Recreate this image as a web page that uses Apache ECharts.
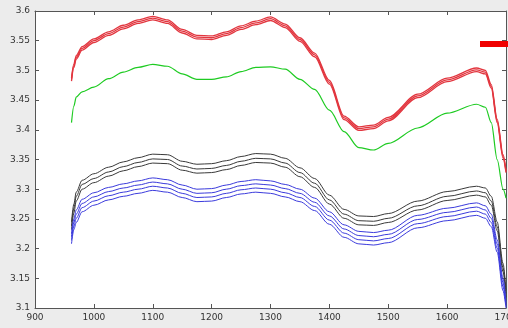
<!DOCTYPE html>
<html>
<head>
<meta charset="utf-8">
<script src="https://cdn.jsdelivr.net/npm/echarts@6/dist/echarts.min.js"></script>
<style>
  html, body { margin: 0; padding: 0; background: #ececec; }
  #chart { width: 508px; height: 328px; }
</style>
</head>
<body>
<div id="chart"></div>
<script>
// Wavelength sample positions (nm)
const wavelengths = [962, 966, 970, 980, 1000, 1025, 1050, 1075, 1100, 1125, 1150, 1175, 1200, 1225, 1250, 1275, 1300, 1325, 1350, 1375, 1400, 1425, 1450, 1475, 1500, 1550, 1600, 1650, 1665, 1675, 1685, 1695, 1700];

// Axis ticks
const xTicks = { min: 900, max: 1700, step: 100 };
const yTicks = { min: 3.1, max: 3.6, step: 0.05 };

// Red group (three spectra)
const red1 = [3.487, 3.511, 3.525, 3.540, 3.553, 3.565, 3.576, 3.585, 3.591, 3.585, 3.569, 3.559, 3.558, 3.565, 3.575, 3.583, 3.590, 3.578, 3.555, 3.529, 3.483, 3.423, 3.405, 3.408, 3.421, 3.460, 3.487, 3.504, 3.500, 3.476, 3.418, 3.358, 3.332];
const red2 = [3.485, 3.508, 3.522, 3.537, 3.550, 3.562, 3.573, 3.582, 3.588, 3.582, 3.566, 3.556, 3.555, 3.562, 3.572, 3.580, 3.587, 3.575, 3.552, 3.526, 3.480, 3.420, 3.402, 3.405, 3.418, 3.457, 3.484, 3.501, 3.497, 3.473, 3.415, 3.355, 3.330];
const red3 = [3.482, 3.505, 3.519, 3.534, 3.547, 3.559, 3.570, 3.579, 3.585, 3.579, 3.563, 3.553, 3.552, 3.559, 3.569, 3.577, 3.584, 3.572, 3.549, 3.523, 3.477, 3.417, 3.399, 3.402, 3.415, 3.454, 3.481, 3.498, 3.494, 3.470, 3.412, 3.352, 3.328];

// Green spectrum
const green1 = [3.412, 3.440, 3.455, 3.464, 3.472, 3.486, 3.497, 3.505, 3.510, 3.507, 3.494, 3.485, 3.485, 3.489, 3.498, 3.505, 3.506, 3.502, 3.485, 3.468, 3.433, 3.397, 3.370, 3.366, 3.377, 3.403, 3.428, 3.443, 3.438, 3.412, 3.350, 3.300, 3.285];

// Black group (three spectra)
const black1 = [3.245, 3.275, 3.295, 3.315, 3.326, 3.337, 3.346, 3.353, 3.359, 3.358, 3.347, 3.342, 3.343, 3.348, 3.355, 3.360, 3.359, 3.352, 3.336, 3.318, 3.290, 3.266, 3.255, 3.254, 3.259, 3.280, 3.296, 3.305, 3.302, 3.288, 3.245, 3.175, 3.130];
const black2 = [3.238, 3.268, 3.288, 3.308, 3.318, 3.329, 3.338, 3.345, 3.351, 3.350, 3.339, 3.334, 3.335, 3.340, 3.347, 3.352, 3.351, 3.344, 3.328, 3.310, 3.282, 3.258, 3.247, 3.246, 3.251, 3.272, 3.288, 3.297, 3.294, 3.280, 3.237, 3.168, 3.124];
const black3 = [3.232, 3.260, 3.280, 3.300, 3.311, 3.322, 3.331, 3.338, 3.344, 3.343, 3.332, 3.327, 3.328, 3.333, 3.340, 3.345, 3.344, 3.337, 3.321, 3.303, 3.275, 3.251, 3.240, 3.239, 3.244, 3.265, 3.281, 3.290, 3.287, 3.273, 3.230, 3.161, 3.118];

// Blue group (four spectra)
const blue1 = [3.225, 3.250, 3.265, 3.283, 3.294, 3.303, 3.309, 3.314, 3.319, 3.316, 3.307, 3.300, 3.301, 3.307, 3.313, 3.316, 3.314, 3.308, 3.300, 3.285, 3.262, 3.240, 3.229, 3.227, 3.231, 3.256, 3.268, 3.277, 3.272, 3.258, 3.215, 3.150, 3.110];
const blue2 = [3.220, 3.244, 3.258, 3.276, 3.287, 3.296, 3.302, 3.307, 3.312, 3.309, 3.300, 3.293, 3.294, 3.300, 3.306, 3.309, 3.307, 3.301, 3.293, 3.278, 3.255, 3.233, 3.222, 3.220, 3.224, 3.249, 3.261, 3.270, 3.265, 3.251, 3.208, 3.143, 3.106];
const blue3 = [3.214, 3.238, 3.251, 3.269, 3.280, 3.289, 3.295, 3.300, 3.305, 3.302, 3.293, 3.286, 3.287, 3.293, 3.299, 3.302, 3.300, 3.294, 3.286, 3.271, 3.248, 3.226, 3.215, 3.213, 3.217, 3.242, 3.254, 3.263, 3.258, 3.244, 3.201, 3.136, 3.103];
const blue4 = [3.208, 3.232, 3.244, 3.262, 3.273, 3.282, 3.288, 3.293, 3.298, 3.295, 3.286, 3.279, 3.280, 3.286, 3.292, 3.295, 3.293, 3.287, 3.279, 3.264, 3.241, 3.219, 3.208, 3.206, 3.210, 3.235, 3.247, 3.256, 3.251, 3.237, 3.194, 3.129, 3.100];

const groups = [
  { names: ['red-1', 'red-2', 'red-3'], values: [red1, red2, red3], color: '#e2363f', width: 1.3 },
  { names: ['green-1'], values: [green1], color: '#1ecb22', width: 1.2 },
  { names: ['black-1', 'black-2', 'black-3'], values: [black1, black2, black3], color: '#3a3a3a', width: 1 },
  { names: ['blue-1', 'blue-2', 'blue-3', 'blue-4'], values: [blue1, blue2, blue3, blue4], color: '#3b3bdc', width: 1 }
];

const series = [];
groups.forEach(g => {
  g.values.forEach((vals, i) => {
    series.push({
      name: g.names[i],
      type: 'line',
      data: wavelengths.map((w, k) => [w, vals[k]]),
      showSymbol: false,
      smooth: 0.3,
      smoothMonotone: 'x',
      lineStyle: { color: g.color, width: g.width },
      itemStyle: { color: g.color },
      emphasis: { disabled: true },
      z: 2
    });
  });
});

const axisLineStyle = { color: '#555', width: 1 };
const labelFont = { fontFamily: 'DejaVu Sans', fontSize: 9, color: '#333' };

const chart = echarts.init(document.getElementById('chart'), null, { renderer: 'canvas' });
chart.setOption({
  animation: false,
  backgroundColor: '#ececec',
  grid: {
    left: 35, right: 2, top: 11, bottom: 20,
    containLabel: false, outerBoundsMode: 'none',
    show: true, backgroundColor: '#ffffff', borderWidth: 0
  },
  legend: {
    data: [{ name: 'red-1', icon: 'rect' }],
    left: 480, top: 41,
    itemWidth: 40, itemHeight: 6,
    itemStyle: { color: '#f00000' },
    formatter: () => '',
    padding: 0,
    selectedMode: false
  },
  xAxis: [
    {
      type: 'value', min: xTicks.min, max: xTicks.max, interval: xTicks.step,
      axisLine: { show: true, lineStyle: axisLineStyle },
      axisTick: { show: true, inside: true, length: 4, lineStyle: axisLineStyle },
      axisLabel: Object.assign({ margin: 5, showMinLabel: true, showMaxLabel: true, hideOverlap: false, formatter: v => String(v) }, labelFont),
      splitLine: { show: false }
    },
    {
      type: 'value', position: 'top', min: xTicks.min, max: xTicks.max, interval: xTicks.step,
      axisLine: { show: true, onZero: false, lineStyle: axisLineStyle },
      axisTick: { show: true, inside: true, length: 4, lineStyle: axisLineStyle },
      axisLabel: { show: false },
      splitLine: { show: false }
    }
  ],
  yAxis: [
    {
      type: 'value', min: yTicks.min, max: yTicks.max, interval: yTicks.step,
      axisLine: { show: true, lineStyle: axisLineStyle },
      axisTick: { show: true, inside: true, length: 4, lineStyle: axisLineStyle },
      axisLabel: Object.assign({ margin: 5, formatter: v => String(+v.toFixed(2)) }, labelFont),
      splitLine: { show: false }
    },
    {
      type: 'value', position: 'right', min: yTicks.min, max: yTicks.max, interval: yTicks.step,
      axisLine: { show: true, onZero: false, lineStyle: axisLineStyle },
      axisTick: { show: true, inside: true, length: 4, lineStyle: axisLineStyle },
      axisLabel: { show: false },
      splitLine: { show: false }
    }
  ],
  series: series
});
</script>
</body>
</html>
